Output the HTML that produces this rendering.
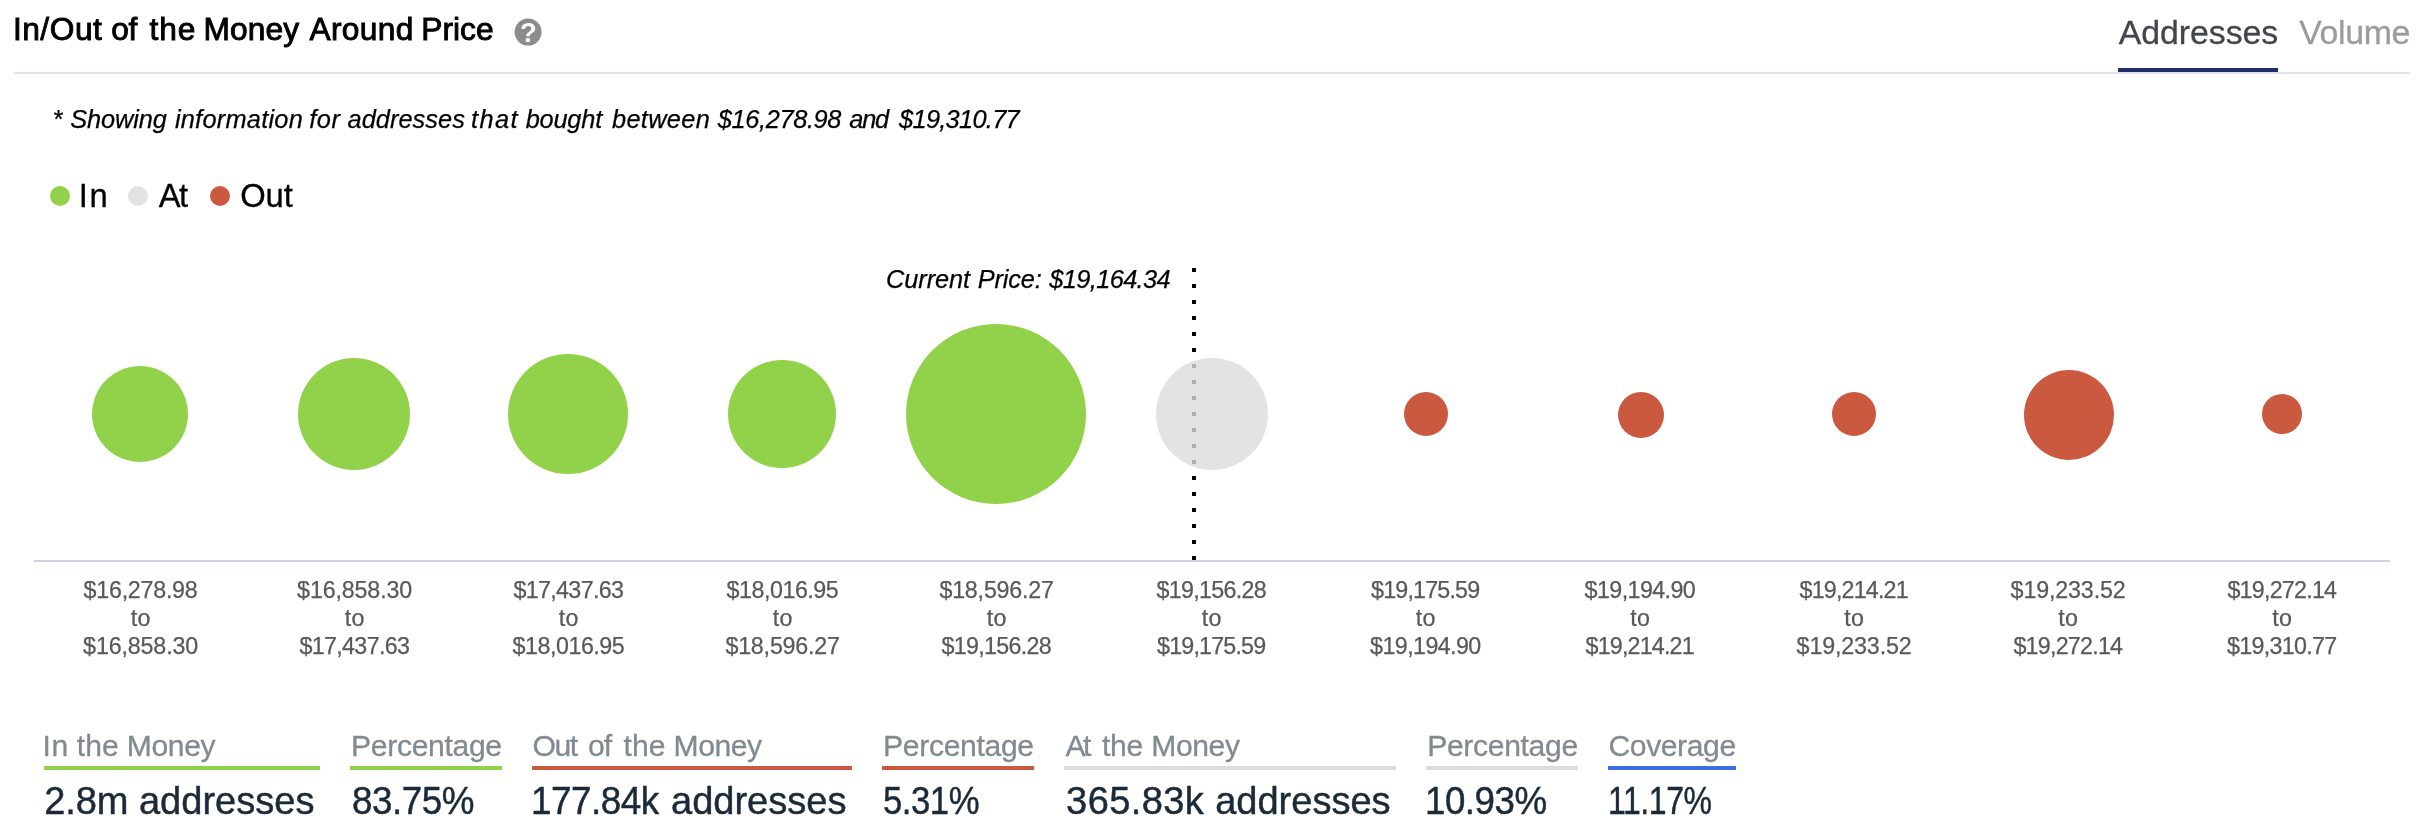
<!DOCTYPE html>
<html lang="en">
<head>
<meta charset="utf-8">
<title>In/Out of the Money Around Price</title>
<style>
html,body{margin:0;padding:0;background:#fff;}
body{width:2422px;height:836px;position:relative;overflow:hidden;font-family:"Liberation Sans",Arial,Helvetica,sans-serif;color:#000;}
.page{position:absolute;left:0;top:0;width:2422px;height:836px;will-change:transform;}
.t{position:absolute;left:0;margin:0;padding:0;height:0;width:0;font-weight:400;font-style:normal;text-decoration:none;display:block;}
.t span{position:absolute;top:0;white-space:nowrap;display:block;transform-origin:0 50%;}
.title{font-size:31.71px;line-height:31.71px;color:#000;-webkit-text-stroke:0.9px #000;}
.tab{font-size:33.82px;line-height:33.82px;color:#9b9b9b;-webkit-text-stroke:0.3px;}
.tab.on{color:#40464c;}
.note{font-size:25.37px;line-height:25.37px;font-style:italic;color:#000;-webkit-text-stroke:0.25px;}
.lg{font-size:32.77px;line-height:32.77px;color:#000;-webkit-text-stroke:0.3px;}
.cp{font-size:25.37px;line-height:25.37px;font-style:italic;color:#000;-webkit-text-stroke:0.25px;}
.ax{font-size:23.25px;line-height:23.25px;color:#595959;-webkit-text-stroke:0.25px;}
.sl{font-size:30.1px;line-height:30.1px;color:#828a91;-webkit-text-stroke:0.3px;}
.sv{font-size:38.05px;line-height:38.05px;color:#1b2a38;-webkit-text-stroke:0.45px;}
dl{margin:0;padding:0;}
.rule{position:absolute;left:14px;top:72px;width:2396px;height:2px;background:#e1e5eb;}
.tabline{position:absolute;left:2118px;top:68px;width:160px;height:4px;background:#1f2d6b;}
.help{position:absolute;left:514px;top:18px;width:28px;height:28px;}
.dot{position:absolute;border-radius:50%;}
.in{background:#92d14a;}
.at{background:#e2e2e2;}
.out{background:#ca5940;}
.cov{background:#3b6fe3;}
.bar.at{background:#dcdcdc;}
.bubble.at{background:rgba(220,220,220,0.8);}
.axisline{position:absolute;left:34px;top:560px;width:2356px;height:2px;background:#cbd4e8;}
.price{position:absolute;left:1192px;top:268px;width:4px;height:292px;background:repeating-linear-gradient(to bottom,#000 0,#000 4px,transparent 4px,transparent 16px);}
.bar{position:absolute;top:766px;height:4px;}
</style>
</head>
<body>
<div class="page">

  <header>
    <h2 class="t title" style="top:14px"><span style="left:12.9px;letter-spacing:0.52px">In/Out</span> <span style="left:111.2px;letter-spacing:-0.30px">of</span> <span style="left:149.5px;letter-spacing:0.85px">the</span> <span style="left:203.6px;letter-spacing:0.10px">Money</span> <span style="left:309.4px;letter-spacing:0.34px">Around</span> <span style="left:421.2px;letter-spacing:0.05px">Price</span></h2>
    <svg class="help" viewBox="0 0 28 28" aria-label="help"><circle cx="14.1" cy="14.1" r="13.5" fill="#8c8c8c"/><text x="14.4" y="24.1" text-anchor="middle" font-family="Liberation Sans, Arial, sans-serif" font-weight="700" font-size="27.5" fill="#fff">?</text></svg>
    <nav>
      <a class="t tab on" style="top:16px"><span style="left:2118.8px;letter-spacing:-0.05px">Addresses</span></a>
      <a class="t tab" style="top:16px"><span style="left:2299.2px;letter-spacing:-0.32px">Volume</span></a>
      <i class="tabline"></i>
    </nav>
    <div class="rule"></div>
  </header>
  <p class="t note" style="top:107px"><span style="left:52.6px">*</span> <span style="left:70.2px;letter-spacing:-0.11px">Showing</span> <span style="left:174.9px;letter-spacing:0.24px">information</span> <span style="left:309.2px;letter-spacing:0.62px">for</span> <span style="left:347.6px;letter-spacing:0.03px">addresses</span> <span style="left:471.1px;letter-spacing:1.38px">that</span> <span style="left:525.7px;letter-spacing:-0.21px">bought</span> <span style="left:612.0px;letter-spacing:0.31px">between</span> <span style="left:717.7px;letter-spacing:-0.35px">$16,278.98</span> <span style="left:849.3px;letter-spacing:-1.23px">and</span> <span style="left:899.1px;letter-spacing:-0.71px">$19,310.77</span></p>
  <div class="legend">
    <i class="dot in" style="left:50px;top:186px;width:20px;height:20px"></i>
    <i class="dot at" style="left:128px;top:186px;width:20px;height:20px"></i>
    <i class="dot out" style="left:210px;top:186px;width:20px;height:20px"></i>
    <span class="t lg" style="top:180px"><span style="left:78.8px;letter-spacing:1.70px">In</span></span>
    <span class="t lg" style="top:180px"><span style="left:158.7px;letter-spacing:-1.60px">At</span></span>
    <span class="t lg" style="top:180px"><span style="left:240.2px;letter-spacing:-0.05px">Out</span></span>
  </div>
  <section class="chart">
    <div class="price"></div>
    <div class="t cp" style="top:267px"><span style="left:886.1px;letter-spacing:-0.11px">Current</span> <span style="left:977.8px;letter-spacing:-0.15px">Price:</span> <span style="left:1049.3px;letter-spacing:-0.62px">$19,164.34</span></div>
    <i class="dot bubble in" style="left:92px;top:366px;width:96px;height:96px"></i>
    <i class="dot bubble in" style="left:298px;top:358px;width:112px;height:112px"></i>
    <i class="dot bubble in" style="left:508px;top:354px;width:120px;height:120px"></i>
    <i class="dot bubble in" style="left:728px;top:360px;width:108px;height:108px"></i>
    <i class="dot bubble in" style="left:906px;top:324px;width:180px;height:180px"></i>
    <i class="dot bubble at" style="left:1156px;top:358px;width:112px;height:112px"></i>
    <i class="dot bubble out" style="left:1404px;top:392px;width:44px;height:44px"></i>
    <i class="dot bubble out" style="left:1618px;top:392px;width:46px;height:46px"></i>
    <i class="dot bubble out" style="left:1832px;top:392px;width:44px;height:44px"></i>
    <i class="dot bubble out" style="left:2024px;top:370px;width:90px;height:90px"></i>
    <i class="dot bubble out" style="left:2262px;top:394px;width:40px;height:40px"></i>
    <div class="axisline"></div>
    <div class="tick">
      <div class="t ax" style="top:579px"><span style="left:83.6px;letter-spacing:-0.25px">$16,278.98</span></div>
      <div class="t ax" style="top:607px"><span style="left:130.8px;letter-spacing:0.35px">to</span></div>
      <div class="t ax" style="top:635px"><span style="left:83.1px;letter-spacing:-0.14px">$16,858.30</span></div>
    </div>
    <div class="tick">
      <div class="t ax" style="top:579px"><span style="left:297.1px;letter-spacing:-0.14px">$16,858.30</span></div>
      <div class="t ax" style="top:607px"><span style="left:344.8px;letter-spacing:0.35px">to</span></div>
      <div class="t ax" style="top:635px"><span style="left:299.4px;letter-spacing:-0.64px">$17,437.63</span></div>
    </div>
    <div class="tick">
      <div class="t ax" style="top:579px"><span style="left:513.4px;letter-spacing:-0.64px">$17,437.63</span></div>
      <div class="t ax" style="top:607px"><span style="left:558.8px;letter-spacing:0.35px">to</span></div>
      <div class="t ax" style="top:635px"><span style="left:512.6px;letter-spacing:-0.47px">$18,016.95</span></div>
    </div>
    <div class="tick">
      <div class="t ax" style="top:579px"><span style="left:726.6px;letter-spacing:-0.47px">$18,016.95</span></div>
      <div class="t ax" style="top:607px"><span style="left:772.8px;letter-spacing:0.35px">to</span></div>
      <div class="t ax" style="top:635px"><span style="left:725.4px;letter-spacing:-0.19px">$18,596.27</span></div>
    </div>
    <div class="tick">
      <div class="t ax" style="top:579px"><span style="left:939.4px;letter-spacing:-0.19px">$18,596.27</span></div>
      <div class="t ax" style="top:607px"><span style="left:986.8px;letter-spacing:0.35px">to</span></div>
      <div class="t ax" style="top:635px"><span style="left:941.6px;letter-spacing:-0.69px">$19,156.28</span></div>
    </div>
    <div class="tick">
      <div class="t ax" style="top:579px"><span style="left:1156.6px;letter-spacing:-0.69px">$19,156.28</span></div>
      <div class="t ax" style="top:607px"><span style="left:1201.8px;letter-spacing:0.35px">to</span></div>
      <div class="t ax" style="top:635px"><span style="left:1157.1px;letter-spacing:-0.81px">$19,175.59</span></div>
    </div>
    <div class="tick">
      <div class="t ax" style="top:579px"><span style="left:1371.1px;letter-spacing:-0.81px">$19,175.59</span></div>
      <div class="t ax" style="top:607px"><span style="left:1415.8px;letter-spacing:0.35px">to</span></div>
      <div class="t ax" style="top:635px"><span style="left:1370.1px;letter-spacing:-0.58px">$19,194.90</span></div>
    </div>
    <div class="tick">
      <div class="t ax" style="top:579px"><span style="left:1584.6px;letter-spacing:-0.58px">$19,194.90</span></div>
      <div class="t ax" style="top:607px"><span style="left:1630.3px;letter-spacing:0.35px">to</span></div>
      <div class="t ax" style="top:635px"><span style="left:1585.6px;letter-spacing:-0.81px">$19,214.21</span></div>
    </div>
    <div class="tick">
      <div class="t ax" style="top:579px"><span style="left:1799.6px;letter-spacing:-0.81px">$19,214.21</span></div>
      <div class="t ax" style="top:607px"><span style="left:1844.3px;letter-spacing:0.35px">to</span></div>
      <div class="t ax" style="top:635px"><span style="left:1796.6px;letter-spacing:-0.14px">$19,233.52</span></div>
    </div>
    <div class="tick">
      <div class="t ax" style="top:579px"><span style="left:2010.6px;letter-spacing:-0.14px">$19,233.52</span></div>
      <div class="t ax" style="top:607px"><span style="left:2058.3px;letter-spacing:0.35px">to</span></div>
      <div class="t ax" style="top:635px"><span style="left:2013.4px;letter-spacing:-0.75px">$19,272.14</span></div>
    </div>
    <div class="tick">
      <div class="t ax" style="top:579px"><span style="left:2227.4px;letter-spacing:-0.75px">$19,272.14</span></div>
      <div class="t ax" style="top:607px"><span style="left:2272.3px;letter-spacing:0.35px">to</span></div>
      <div class="t ax" style="top:635px"><span style="left:2227.1px;letter-spacing:-0.69px">$19,310.77</span></div>
    </div>
  </section>
  <footer>
    <dl class="stat">
      <dt class="t sl" style="top:731px"><span style="left:42.5px;letter-spacing:0.70px">In</span> <span style="left:76.8px">the</span> <span style="left:126.8px;letter-spacing:-0.40px">Money</span></dt>
      <dd class="t sv" style="top:782px"><span style="left:44.3px;letter-spacing:-0.15px">2.8m</span> <span style="left:138.9px;letter-spacing:0.01px">addresses</span></dd>
      <i class="bar in" style="left:44px;width:276px"></i>
    </dl>
    <dl class="stat">
      <dt class="t sl" style="top:731px"><span style="left:351.1px;letter-spacing:-0.33px">Percentage</span></dt>
      <dd class="t sv" style="top:782px"><span style="left:351.8px;letter-spacing:-0.50px;transform:scaleX(0.967)">83.75%</span></dd>
      <i class="bar in" style="left:350px;width:152px"></i>
    </dl>
    <dl class="stat">
      <dt class="t sl" style="top:731px"><span style="left:532.6px;letter-spacing:-1.45px">Out</span> <span style="left:587.9px;letter-spacing:-1.00px">of</span> <span style="left:623.6px">the</span> <span style="left:673.6px;letter-spacing:-0.48px">Money</span></dt>
      <dd class="t sv" style="top:782px"><span style="left:531.2px;letter-spacing:-0.50px;transform:scaleX(0.969)">177.84k</span> <span style="left:671.0px;letter-spacing:-0.01px">addresses</span></dd>
      <i class="bar out" style="left:532px;width:320px"></i>
    </dl>
    <dl class="stat">
      <dt class="t sl" style="top:731px"><span style="left:883.1px;letter-spacing:-0.33px">Percentage</span></dt>
      <dd class="t sv" style="top:782px"><span style="left:883.3px;letter-spacing:-0.50px;transform:scaleX(0.912)">5.31%</span></dd>
      <i class="bar out" style="left:882px;width:152px"></i>
    </dl>
    <dl class="stat">
      <dt class="t sl" style="top:731px"><span style="left:1065.5px;letter-spacing:-2.50px">At</span> <span style="left:1102.0px;letter-spacing:-0.25px">the</span> <span style="left:1151.2px;letter-spacing:-0.38px">Money</span></dt>
      <dd class="t sv" style="top:782px"><span style="left:1066.1px;letter-spacing:0.39px">365.83k</span> <span style="left:1215.2px;letter-spacing:-0.02px">addresses</span></dd>
      <i class="bar at" style="left:1064px;width:332px"></i>
    </dl>
    <dl class="stat">
      <dt class="t sl" style="top:731px"><span style="left:1427.2px;letter-spacing:-0.33px">Percentage</span></dt>
      <dd class="t sv" style="top:782px"><span style="left:1425.2px;letter-spacing:-0.50px;transform:scaleX(0.965)">10.93%</span></dd>
      <i class="bar at" style="left:1426px;width:152px"></i>
    </dl>
    <dl class="stat">
      <dt class="t sl" style="top:731px"><span style="left:1608.5px;letter-spacing:-0.41px">Coverage</span></dt>
      <dd class="t sv" style="top:782px"><span style="left:1607.6px;letter-spacing:-0.50px;transform:scaleX(0.840)">11.17%</span></dd>
      <i class="bar cov" style="left:1608px;width:128px"></i>
    </dl>
  </footer>
</div>
</body>
</html>
